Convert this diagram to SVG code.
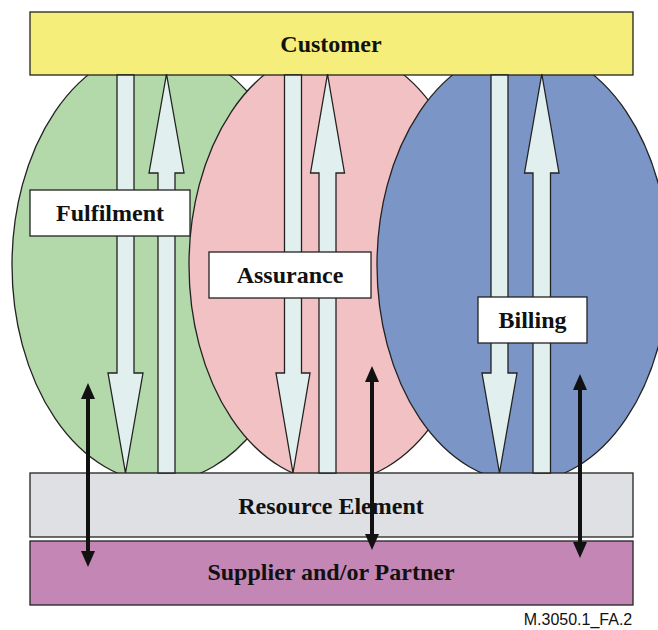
<svg xmlns="http://www.w3.org/2000/svg" width="658" height="630" viewBox="0 0 658 630">
<style>
.ol{stroke:#222;stroke-width:1.3}
.arr{fill:#e1f0ee;stroke:#222;stroke-width:1.3;stroke-linejoin:miter}
.lbl{font-family:"Liberation Serif","Times New Roman",serif;font-weight:bold;font-size:24px;fill:#111;text-anchor:middle}
.box{fill:#ffffff;stroke:#222;stroke-width:1.3}
.dbl{stroke:#111;stroke-width:4;fill:none}
</style>
<defs>
<marker id="ah" markerUnits="userSpaceOnUse" markerWidth="16" markerHeight="16" refX="0" refY="7" orient="auto-start-reverse" viewBox="0 0 16 14">
<path d="M0,0 L16,7 L0,14 Z" fill="#111"/>
</marker>
</defs>
<rect width="658" height="630" fill="#ffffff"/>
<g id="fulfilment-area"><ellipse cx="159" cy="265" rx="147" ry="217" fill="#b3d9aa" class="ol"/></g>
<g id="assurance-area"><ellipse cx="334" cy="265" rx="145" ry="217" fill="#f2c1c3" class="ol"/></g>
<g id="billing-area"><ellipse cx="523" cy="265" rx="146" ry="217" fill="#7b95c6" class="ol"/></g>
<g id="resource-element">
<rect x="30" y="473" width="603" height="64" fill="#dfe0e4" class="ol"/>
<text x="331" y="514" class="lbl">Resource Element</text>
</g>
<g id="supplier-partner">
<rect x="30" y="541" width="603" height="64" fill="#c487b5" class="ol"/>
<text x="331" y="580" class="lbl">Supplier and/or Partner</text>
</g>
<g id="customer">
<rect x="30" y="12" width="603" height="63" fill="#f5ee7a" class="ol"/>
<text x="331" y="52" class="lbl">Customer</text>
</g>
<g id="connectors">
<path class="arr" d="M117,75 H134 V373 H143 L125.5,473 L108,373 H117 Z"/>
<path class="arr" d="M166.5,74 L184,173 H175 V473 H158 V173 H149 Z"/>
<path class="arr" d="M284.5,75 H301.5 V373 H310 L293,473 L276,373 H284.5 Z"/>
<path class="arr" d="M327.5,74 L344.5,173 H336 V473 H319 V173 H310.5 Z"/>
<path class="arr" d="M491,75 H508 V373 H517 L499.5,473 L482,373 H491 Z"/>
<path class="arr" d="M541.8,74 L559,173 H550.5 V473 H533 V173 H524.5 Z"/>
<line class="dbl" x1="88" y1="399" x2="88" y2="551" marker-start="url(#ah)" marker-end="url(#ah)"/>
<line class="dbl" x1="372" y1="382" x2="372" y2="534" marker-start="url(#ah)" marker-end="url(#ah)"/>
<line class="dbl" x1="580" y1="390" x2="580" y2="542" marker-start="url(#ah)" marker-end="url(#ah)"/>
</g>
<g id="fulfilment">
<rect x="30" y="190" width="160" height="46" class="box"/>
<text x="110" y="221" class="lbl">Fulfilment</text>
</g>
<g id="assurance">
<rect x="209" y="252" width="162" height="46" class="box"/>
<text x="290" y="283" class="lbl">Assurance</text>
</g>
<g id="billing">
<rect x="478" y="297" width="109" height="46" class="box"/>
<text x="532.5" y="328" class="lbl">Billing</text>
</g>
<text x="578" y="625" font-family="Liberation Sans,Arial,sans-serif" font-size="16" fill="#111" text-anchor="middle">M.3050.1_FA.2</text>
</svg>
